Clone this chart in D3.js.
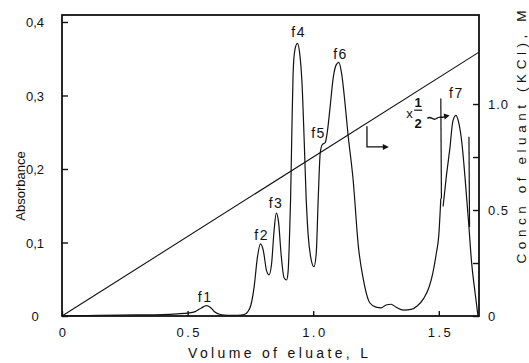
<!DOCTYPE html>
<html>
<head>
<meta charset="utf-8">
<script src="https://cdn.jsdelivr.net/npm/d3@7"></script>
<style>
  html, body { margin: 0; padding: 0; background: #fff; }
  svg { display: block; font-family: "Liberation Sans", "DejaVu Sans", sans-serif; }
</style>
</head>
<body>
<div id="chart"></div>
<script>
// ---------- data ----------
// main absorbance trace (full scale), volume in L
const volume = [0, 0.15, 0.3, 0.4, 0.46, 0.5, 0.53, 0.555, 0.575, 0.59, 0.61, 0.63, 0.66, 0.70, 0.725,
  0.74, 0.752, 0.765, 0.778, 0.79, 0.802, 0.814, 0.824, 0.834, 0.844, 0.853, 0.862, 0.872, 0.884, 0.894,
  0.9, 0.905, 0.91, 0.915, 0.92, 0.927, 0.937, 0.947, 0.955, 0.964, 0.972, 0.98, 0.99, 1.003,
  1.012, 1.02, 1.028, 1.036, 1.048, 1.056, 1.066, 1.08, 1.092, 1.102, 1.113, 1.125, 1.138, 1.159,
  1.18, 1.2, 1.225, 1.25, 1.27, 1.29, 1.31, 1.33, 1.36, 1.39, 1.415, 1.44, 1.46, 1.476, 1.49, 1.5, 1.508];
const absorbance = [0, 0.001, 0.0015, 0.002, 0.003, 0.004, 0.006, 0.011, 0.014, 0.012, 0.005, 0.002, 0.001, 0.001, 0.002,
  0.006, 0.015, 0.04, 0.08, 0.098, 0.088, 0.062, 0.056, 0.07, 0.115, 0.14, 0.128, 0.085, 0.052, 0.049,
  0.06, 0.10, 0.16, 0.25, 0.33, 0.362, 0.371, 0.355, 0.32, 0.24, 0.16, 0.11, 0.08, 0.067,
  0.085, 0.16, 0.222, 0.233, 0.236, 0.25, 0.28, 0.325, 0.342, 0.345, 0.33, 0.295, 0.249, 0.185,
  0.094, 0.049, 0.018, 0.012, 0.011, 0.015, 0.016, 0.012, 0.008, 0.009, 0.014, 0.024, 0.038, 0.058, 0.085, 0.11, 0.16];
// f7 region recorded at x 1/2 scale
const volumeHalf = [1.517, 1.53, 1.544, 1.556, 1.568, 1.58, 1.592, 1.604, 1.62];
const absorbanceHalf = [0.149, 0.19, 0.228, 0.265, 0.273, 0.262, 0.235, 0.19, 0.121];
// tail after returning to full scale
const volumeTail = [1.62, 1.63, 1.645, 1.656];
const absorbanceTail = [0.121, 0.075, 0.03, 0.0];
// recorder pen jumps (scale changes)
const jumpVolume = [1.508, 1.62];
const jumpLow = [0.16, 0.121];
const jumpHigh = [0.296, 0.244];
// KCl gradient
const gradVolume = [0, 1.66];
const gradConc = [0, 1.245];
// peak labels
const peakNames = ["f1", "f2", "f3", "f4", "f5", "f6", "f7"];
const peakVol = [0.570, 0.795, 0.852, 0.942, 1.021, 1.109, 1.57];
const peakAbs = [0.019, 0.103, 0.147, 0.379, 0.242, 0.35, 0.297];
// ticks
const xTicks = [0, 0.5, 1.0, 1.5];
const xTickLabels = ["0", "0.5", "1.0", "1.5"];
const yTicks = [0, 0.1, 0.2, 0.3, 0.4];
const yTickLabels = ["0", "0,1", "0,2", "0,3", "0,4"];
const y2Ticks = [0, 0.25, 0.5, 0.75, 1.0];
const y2TickLabels = ["0", "", "0.5", "", "1.0"];

// ---------- layout ----------
const W = 529, H = 363;
const margin = { top: 15, right: 50, bottom: 47, left: 62 };
const x = d3.scaleLinear().domain([0, 1.66]).range([margin.left, W - margin.right]);
const yA = d3.scaleLinear().domain([0, 0.4095]).range([H - margin.bottom, margin.top]);
const yC = d3.scaleLinear().domain([0, 1.42]).range([H - margin.bottom, margin.top]);

const svg = d3.select("#chart").append("svg").attr("width", W).attr("height", H);
svg.append("rect").attr("width", W).attr("height", H).attr("fill", "#fff");

const ink = "#111";

// axes
const fmtFrom = (ticks, labels) => v => labels[ticks.indexOf(v)];
const gx = svg.append("g").attr("transform", `translate(0,${H - margin.bottom})`)
  .call(d3.axisBottom(x).tickValues(xTicks).tickFormat(fmtFrom(xTicks, xTickLabels))
    .tickSizeInner(-5).tickSizeOuter(0).tickPadding(12));
const gy = svg.append("g").attr("transform", `translate(${margin.left},0)`)
  .call(d3.axisLeft(yA).tickValues(yTicks).tickFormat(fmtFrom(yTicks, yTickLabels))
    .tickSizeInner(-6).tickSizeOuter(0).tickPadding(27));
const gy2 = svg.append("g").attr("transform", `translate(${W - margin.right},0)`)
  .call(d3.axisRight(yC).tickValues(y2Ticks).tickFormat(fmtFrom(y2Ticks, y2TickLabels))
    .tickSizeInner(-6).tickSizeOuter(0).tickPadding(9));
[gx, gy, gy2].forEach(g => {
  g.select(".domain").remove();
  g.selectAll(".tick line").attr("stroke", ink).attr("stroke-width", 1.4);
  g.selectAll(".tick text").attr("fill", ink).attr("font-size", 13)
    .attr("font-family", "Liberation Sans, sans-serif");
});
gx.selectAll(".tick text").attr("letter-spacing", 2.5).attr("dx", 1.2);
gy.selectAll(".tick text").attr("text-anchor", "middle").attr("dy", "0.36em");
gy2.selectAll(".tick text").attr("dy", "0.36em").attr("letter-spacing", 1);

// frame
svg.append("rect")
  .attr("x", x(0)).attr("y", yA(0.4095))
  .attr("width", x(1.66) - x(0)).attr("height", yA(0) - yA(0.4095))
  .attr("fill", "none").attr("stroke", ink).attr("stroke-width", 1.8);

// gradient line
svg.append("path")
  .datum(gradVolume.map((v, i) => [v, gradConc[i]]))
  .attr("fill", "none").attr("stroke", ink).attr("stroke-width", 1.1)
  .attr("d", d3.line().x(d => x(d[0])).y(d => yC(d[1])));

// absorbance traces
const trace = d3.line().x(d => x(d[0])).y(d => yA(d[1])).curve(d3.curveMonotoneX);
const segs = [
  volume.map((v, i) => [v, absorbance[i]]),
  volumeHalf.map((v, i) => [v, absorbanceHalf[i]]),
  volumeTail.map((v, i) => [v, absorbanceTail[i]])
];
svg.selectAll("path.trace").data(segs).join("path").attr("class", "trace")
  .attr("fill", "none").attr("stroke", ink).attr("stroke-width", 1.2)
  .attr("d", trace);
svg.selectAll("line.jump").data(jumpVolume).join("line").attr("class", "jump")
  .attr("x1", d => x(d)).attr("x2", (d, i) => x(d) + 0.6)
  .attr("y1", (d, i) => yA(jumpHigh[i])).attr("y2", (d, i) => yA(jumpLow[i]))
  .attr("stroke", ink).attr("stroke-width", 1.2);

// peak labels
svg.selectAll("text.peak").data(peakNames).join("text").attr("class", "peak")
  .attr("x", (d, i) => x(peakVol[i])).attr("y", (d, i) => yA(peakAbs[i]))
  .attr("text-anchor", "middle").attr("font-size", 14).attr("letter-spacing", 1.5)
  .attr("fill", ink).text(d => d);

// "L->" marker
const lx = x(1.214), ltop = yA(0.258), lbot = yA(0.230), lend = x(1.285);
svg.append("path").attr("fill", "none").attr("stroke", ink).attr("stroke-width", 1.3)
  .attr("d", `M${lx},${ltop}V${lbot}H${lend}`);
svg.append("path").attr("fill", ink)
  .attr("d", `M${lend + 4},${lbot}L${lend - 2},${lbot - 3}L${lend - 2},${lbot + 3}Z`);

// x 1/2 annotation
const ax = x(1.37), ay = yA(0.27);
svg.append("text").attr("x", ax).attr("y", ay).attr("font-size", 13).attr("fill", ink).text("x");
const fx = x(1.418);
svg.append("text").attr("x", fx).attr("y", yA(0.284)).attr("text-anchor", "middle")
  .attr("font-size", 13).attr("font-weight", "bold").attr("fill", ink).text("1");
svg.append("line").attr("x1", fx - 4).attr("x2", fx + 4).attr("y1", yA(0.280)).attr("y2", yA(0.280))
  .attr("stroke", ink).attr("stroke-width", 1.2);
svg.append("text").attr("x", fx).attr("y", yA(0.256)).attr("text-anchor", "middle")
  .attr("font-size", 13).attr("font-weight", "bold").attr("fill", ink).text("2");
const sx0 = x(1.455), sx1 = x(1.535), sy = yA(0.27);
svg.append("path").attr("fill", "none").attr("stroke", ink).attr("stroke-width", 1.4)
  .attr("d", `M${sx0},${sy + 1} C${sx0 + 3},${sy - 3} ${sx0 + 5},${sy + 4} ${sx0 + 9},${sy + 1} C${sx0 + 12},${sy - 2} ${sx0 + 15},${sy + 1} ${sx1 - 3},${sy - 1}`);
svg.append("path").attr("fill", ink)
  .attr("d", `M${sx1 + 2},${sy - 2}L${sx1 - 4},${sy - 4}L${sx1 - 3},${sy + 2}Z`);

// axis titles
svg.append("text").attr("x", 278).attr("y", 358).attr("text-anchor", "middle")
  .attr("font-size", 14).attr("fill", ink)
  .attr("textLength", 180).attr("lengthAdjust", "spacing").text("Volume of eluate, L");
svg.append("text").attr("transform", "translate(25,186) rotate(-90)").attr("text-anchor", "middle")
  .attr("font-size", 13).attr("fill", ink).text("Absorbance");
svg.append("text").attr("transform", "translate(526,137) rotate(-90)").attr("text-anchor", "middle")
  .attr("font-size", 13.5).attr("fill", ink)
  .attr("textLength", 253).attr("lengthAdjust", "spacing").text("Concn of eluant (KCl), M");
</script>
</body>
</html>
